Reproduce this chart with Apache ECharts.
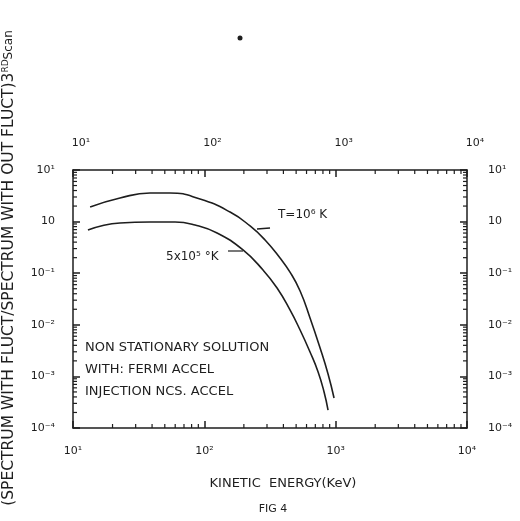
<!DOCTYPE html>
<html><head><meta charset="utf-8">
<script src="https://cdn.jsdelivr.net/npm/echarts@6/dist/echarts.min.js"></script>
<style>html,body{margin:0;padding:0;background:#fff}#c{width:520px;height:521px}</style>
</head><body><div id="c"></div>
<script>
// Curve T = 10^6 K
const energyHot = [13.5, 22.8, 38.6, 54.8, 92.7, 157, 223, 290, 377, 449, 536, 638, 761, 875, 972];
const ratioHot  = [1.92, 2.86, 3.58, 3.58, 2.74, 1.53, 0.822, 0.440, 0.197, 0.105, 0.0452, 0.01355, 0.00355, 0.00111, 0.000381];
// Curve 5x10^5 K
const energyCool = [13.0, 22.8, 38.6, 59.8, 85.0, 125, 197, 280, 358, 449, 536, 638, 735, 816, 875];
const ratioCool  = [0.687, 0.94, 0.98, 0.98, 0.859, 0.601, 0.282, 0.115, 0.0516, 0.0194, 0.00793, 0.00297, 0.00122, 0.000499, 0.000223];

const xTickValues = [10, 100, 1000, 10000];
const xTickLabels = ['10¹', '10²', '10³', '10⁴'];
const yTickValues = [1e-4, 1e-3, 1e-2, 1e-1, 1, 10];
const yTickLabels = ['10⁻⁴', '10⁻³', '10⁻²', '10⁻¹', '10', '10¹'];
const curveLabels = ['T=10⁶ K', '5x10⁵ °K'];
const noteLines = ['NON STATIONARY SOLUTION', 'WITH: FERMI ACCEL', 'INJECTION NCS. ACCEL'];
const xTitle = 'KINETIC  ENERGY(KeV)';
const yTitleMain = '(SPECTRUM WITH FLUCT/SPECTRUM WITH OUT FLUCT)3';
const yTitleSup = 'RD';
const yTitleTail = 'Scan';
const figLabel = 'FIG 4';

const ink = '#1e1e1e';
const FONT = 'DejaVu Sans';

function decadeLabel(values, labels) {
  return function (v) {
    for (let i = 0; i < values.length; i++) {
      if (Math.abs(Math.log10(v) - Math.log10(values[i])) < 1e-6) return labels[i];
    }
    return '';
  };
}
function minorTicks(lo, hi) {
  const out = [];
  for (let d = lo; d < hi * 0.999; d *= 10) for (let k = 2; k <= 9; k++) out.push(d * k);
  return out;
}
const xMinor = minorTicks(10, 10000);
const yMinor = minorTicks(1e-4, 10);
const xMin = 10, xMax = 10000, yMin = 1e-4, yMax = 10;

const chart = echarts.init(document.getElementById('c'), null, {renderer: 'canvas'});

const axisCommon = {
  type: 'log', logBase: 10,
  axisLine: {show: true, lineStyle: {color: ink, width: 1.5}},
  axisTick: {show: true, inside: true, length: 7, lineStyle: {color: ink, width: 1.5}},
  splitLine: {show: false},
  minorTick: {show: false}
};

function tickGroup(children) { return {type: 'group', children: children}; }

const option = {
  backgroundColor: '#ffffff',
  animation: false,
  grid: {left: 73, right: 53, top: 170, bottom: 93, containLabel: false},
  xAxis: [
    Object.assign({}, axisCommon, {
      position: 'bottom', min: xMin, max: xMax,
      axisLabel: {color: ink, fontFamily: FONT, fontSize: 11, margin: 18, formatter: decadeLabel(xTickValues, xTickLabels)},
      name: xTitle, nameLocation: 'middle', nameGap: 49,
      nameTextStyle: {color: ink, fontFamily: FONT, fontSize: 13, padding: [0, 0, 0, 26]}
    }),
    Object.assign({}, axisCommon, {
      position: 'top', min: xMin, max: xMax,
      axisLabel: {color: ink, fontFamily: FONT, fontSize: 11, margin: 21, padding: [0, 0, 0, 16], formatter: decadeLabel(xTickValues, xTickLabels)}
    })
  ],
  yAxis: [
    Object.assign({}, axisCommon, {
      position: 'left', min: yMin, max: yMax,
      axisLabel: {color: ink, fontFamily: FONT, fontSize: 11, margin: 18, formatter: decadeLabel(yTickValues, yTickLabels)}
    }),
    Object.assign({}, axisCommon, {
      position: 'right', min: yMin, max: yMax,
      axisLabel: {color: ink, fontFamily: FONT, fontSize: 11, margin: 21, formatter: decadeLabel(yTickValues, yTickLabels)}
    })
  ],
  series: [
    {
      type: 'line', name: curveLabels[0], xAxisIndex: 0, yAxisIndex: 0,
      data: energyHot.map((e, i) => [e, ratioHot[i]]),
      showSymbol: false, smooth: 0.5,
      lineStyle: {color: ink, width: 1.6}
    },
    {
      type: 'line', name: curveLabels[1], xAxisIndex: 0, yAxisIndex: 0,
      data: energyCool.map((e, i) => [e, ratioCool[i]]),
      showSymbol: false, smooth: 0.5,
      lineStyle: {color: ink, width: 1.6}
    },
    {
      type: 'custom', xAxisIndex: 0, yAxisIndex: 0, silent: true, clip: false, z: 5,
      encode: {x: 0, y: 1},
      data: xMinor.map(v => [v, yMin]),
      renderItem: function (params, api) {
        const v = api.value(0);
        const b = api.coord([v, yMin]);
        const t = api.coord([v, yMax]);
        const st = {stroke: ink, lineWidth: 1.2};
        return tickGroup([
          {type: 'line', shape: {x1: b[0], y1: b[1], x2: b[0], y2: b[1] - 4}, style: st},
          {type: 'line', shape: {x1: t[0], y1: t[1], x2: t[0], y2: t[1] + 4}, style: st}
        ]);
      }
    },
    {
      type: 'custom', xAxisIndex: 0, yAxisIndex: 0, silent: true, clip: false, z: 5,
      encode: {x: 0, y: 1},
      data: yMinor.map(v => [xMin, v]),
      renderItem: function (params, api) {
        const v = api.value(1);
        const l = api.coord([xMin, v]);
        const r = api.coord([xMax, v]);
        const st = {stroke: ink, lineWidth: 1.2};
        return tickGroup([
          {type: 'line', shape: {x1: l[0], y1: l[1], x2: l[0] + 4, y2: l[1]}, style: st},
          {type: 'line', shape: {x1: r[0], y1: r[1], x2: r[0] - 4, y2: r[1]}, style: st}
        ]);
      }
    }
  ],
  graphic: [
    {type: 'text', x: 9, y: 268, rotation: Math.PI / 2,
      style: {text: '{a|' + yTitleMain + '}{s|' + yTitleSup + '}{t|' + yTitleTail + '}',
        align: 'center', verticalAlign: 'middle', fill: ink,
        rich: {
          a: {fontFamily: FONT, fontSize: 15.5, fill: ink},
          s: {fontFamily: FONT, fontSize: 9, fill: ink, verticalAlign: 'top', padding: [0, 0, 7, 0]},
          t: {fontFamily: FONT, fontSize: 12, fill: ink}
        }}},
    {type: 'text', x: 278, y: 215, style: {text: curveLabels[0], fontFamily: FONT, fontSize: 12, fill: ink, verticalAlign: 'middle'}},
    {type: 'line', shape: {x1: 257, y1: 229, x2: 270, y2: 228}, style: {stroke: ink, lineWidth: 1.5}},
    {type: 'text', x: 166, y: 257, style: {text: curveLabels[1], fontFamily: FONT, fontSize: 12, fill: ink, verticalAlign: 'middle'}},
    {type: 'line', shape: {x1: 228, y1: 251, x2: 243, y2: 251}, style: {stroke: ink, lineWidth: 1.2}},
    {type: 'text', x: 85, y: 348, style: {text: noteLines[0], fontFamily: FONT, fontSize: 13, fill: ink, verticalAlign: 'middle'}},
    {type: 'text', x: 85, y: 370, style: {text: noteLines[1], fontFamily: FONT, fontSize: 13, fill: ink, verticalAlign: 'middle'}},
    {type: 'text', x: 85, y: 392, style: {text: noteLines[2], fontFamily: FONT, fontSize: 13, fill: ink, verticalAlign: 'middle'}},
    {type: 'text', x: 273, y: 509, style: {text: figLabel, fontFamily: FONT, fontSize: 11, fill: ink, align: 'center', verticalAlign: 'middle'}},
    {type: 'circle', shape: {cx: 240, cy: 38, r: 2.5}, style: {fill: ink}}
  ]
};
chart.setOption(option);
</script>
</body></html>
